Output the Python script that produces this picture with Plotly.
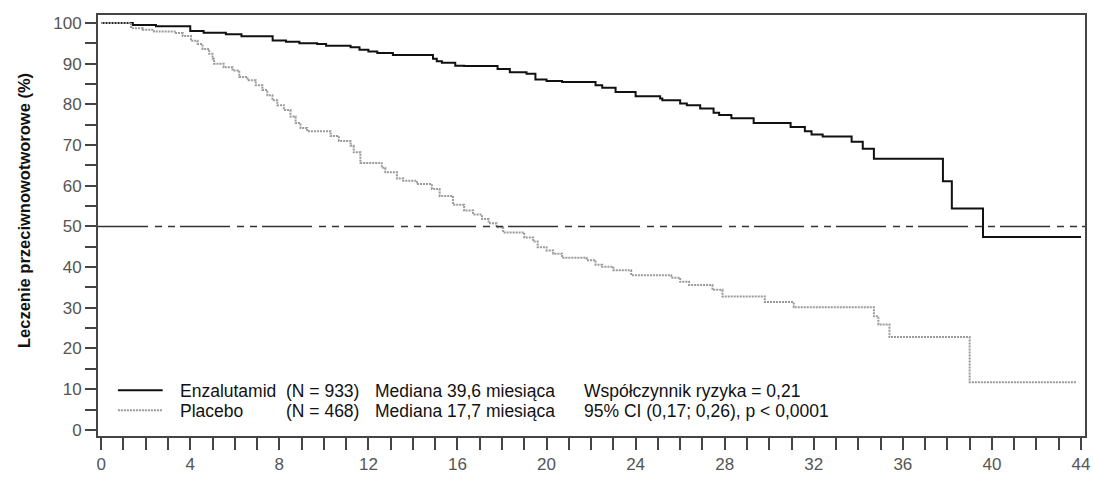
import plotly.graph_objects as go

# Kaplan-Meier step data: month of each drop and survival (%) after it
enza_months = [0, 1.42, 2.46, 4.0, 4.6, 5.6, 6.3, 7.7, 8.3, 8.9, 9.7, 10.1, 11.2, 11.6,
               12.0, 12.4, 13.1, 14.9, 15.07, 15.3, 15.9, 16.3, 17.8, 18.35, 19.1, 19.5,
               20.0, 20.7, 22.2, 22.5, 23.1, 24.0, 25.1, 25.2, 26.0, 26.3, 26.9, 27.5,
               27.75, 28.3, 29.3, 30.96, 31.6, 31.9, 32.4, 33.7, 34.2, 34.7, 37.8, 38.2,
               39.6, 44.0]
enza_pct = [100, 99.5, 99.2, 98.0, 97.6, 97.2, 96.7, 95.7, 95.4, 95.0, 94.8, 94.4, 94.0,
            93.4, 93.0, 92.6, 92.1, 91.2, 90.6, 90.2, 89.5, 89.4, 88.7, 87.9, 87.5, 86.1,
            85.7, 85.5, 84.7, 84.1, 83.0, 82.0, 81.4, 81.0, 80.2, 79.8, 79.0, 77.9, 77.4,
            76.6, 75.4, 74.4, 73.4, 72.6, 72.1, 70.8, 69.1, 66.6, 61.1, 54.4, 47.4, 47.4]

placebo_months = [0, 1.34, 1.87, 2.37, 3.36, 3.66, 4.03, 4.33, 4.55, 4.85, 5.0, 5.07, 5.5,
                  5.9, 6.2, 6.57, 6.94, 7.24, 7.46, 7.69, 7.91, 8.2, 8.5, 8.73, 8.95, 9.25,
                  10.3, 10.67, 11.2, 11.34, 11.64, 12.6, 12.76, 13.28, 13.56, 14.18, 14.85,
                  15.2, 15.8, 16.3, 16.7, 17.1, 17.4, 17.75, 18.05, 19.0, 19.4, 19.6, 20.0,
                  20.3, 20.7, 21.8, 22.2, 22.5, 23.0, 23.8, 25.6, 26.0, 26.4, 27.45, 27.9,
                  29.8, 31.1, 34.7, 34.9, 35.4, 39.0, 43.8]
placebo_pct = [100, 98.7, 98.3, 97.9, 97.5, 96.8, 95.6, 94.8, 93.6, 92.4, 91.2, 90.0, 89.1,
               88.3, 86.7, 85.9, 84.7, 83.5, 82.2, 81.0, 79.8, 78.6, 77.0, 75.4, 74.2, 73.4,
               72.2, 71.0, 69.8, 68.2, 65.6, 64.4, 63.3, 61.8, 61.2, 60.4, 59.2, 57.5, 55.3,
               53.9, 52.9, 51.8, 50.8, 49.8, 48.5, 47.3, 46.3, 44.9, 44.1, 43.3, 42.3, 41.7,
               40.6, 40.1, 39.2, 38.0, 37.4, 36.4, 35.6, 34.4, 32.8, 31.4, 30.1, 27.9, 25.9,
               22.8, 11.7, 11.7]

x_ticks = list(range(0, 45, 4))
y_ticks = list(range(0, 101, 10))
median_level = 50

legend_rows = [
    ["Enzalutamid", "(N = 933)", "Mediana 39,6 miesiąca", "Współczynnik ryzyka = 0,21"],
    ["Placebo", "(N = 468)", "Mediana 17,7 miesiąca", "95% CI (0,17; 0,26), p < 0,0001"],
]
y_title = "Leczenie przeciwnowotworowe (%)"

FONT = "Liberation Sans, Arial, sans-serif"
W, H = 1095, 479
M_L, M_R, M_T, M_B = 98, 5, 15, 40
PW, PH = W - M_L - M_R, H - M_T - M_B


def px_x(px):
    return (px - M_L) / PW


def px_y(py):
    return (H - M_B - py) / PH


ENZA_STYLE = dict(color="#111111", width=2)
PLAC_STYLE = dict(color="#9a9a9a", width=2, dash="2px,1px")

fig = go.Figure()
fig.add_trace(go.Scatter(x=enza_months, y=enza_pct, mode="lines", line_shape="hv",
                         line=ENZA_STYLE, name="Enzalutamid", showlegend=False))
fig.add_trace(go.Scatter(x=placebo_months, y=placebo_pct, mode="lines", line_shape="hv",
                         line=PLAC_STYLE, name="Placebo", showlegend=False))

# median reference line
fig.add_shape(type="line", xref="paper", yref="y", x0=0, x1=1,
              y0=median_level, y1=median_level,
              line=dict(color="#333333", width=1.5, dash="50px,7px,7px,6px,7px,5px"))

# legend block: line samples and text columns
row_y = [394, 414]
col_x = [178, 285, 374, 584]
for row, ly, style in zip(legend_rows, row_y, [ENZA_STYLE, PLAC_STYLE]):
    fig.add_shape(type="line", xref="paper", yref="paper",
                  x0=px_x(118), x1=px_x(163), y0=px_y(ly - 1), y1=px_y(ly - 1), line=style)
    for txt, cx in zip(row, col_x):
        fig.add_annotation(text=txt, xref="paper", yref="paper", x=px_x(cx), y=px_y(ly),
                           xanchor="left", yanchor="middle", showarrow=False,
                           font=dict(family=FONT, size=17.5, color="#111111"))

fig.add_annotation(text=y_title, xref="paper", yref="paper", x=px_x(23), y=px_y(212),
                   textangle=-90, xanchor="center", yanchor="middle", showarrow=False,
                   font=dict(family=FONT, size=16.5, color="#111111", weight="bold"))

axis_common = dict(showline=True, mirror=True, linecolor="#444444", linewidth=2,
                   showgrid=False, zeroline=False, ticks="outside", tickcolor="#444444",
                   tickwidth=2, ticklabeloverflow="allow",
                   tickfont=dict(family=FONT, size=17, color="#555555"))

fig.update_xaxes(range=[-0.143, 44.18], tickvals=x_ticks, ticklen=12,
                 minor=dict(dtick=1, ticks="outside", ticklen=12, tickcolor="#444444",
                            tickwidth=2),
                 **axis_common)
fig.update_yaxes(range=[-1.51, 101.95], tickvals=y_ticks, ticklen=11,
                 minor=dict(dtick=5, ticks="outside", ticklen=11, tickcolor="#444444",
                            tickwidth=2),
                 **axis_common)

fig.update_layout(width=W, height=H, margin=dict(l=M_L, r=M_R, t=M_T, b=M_B),
                  plot_bgcolor="white", paper_bgcolor="white",
                  font=dict(family=FONT))

fig.write_html("out.html")
